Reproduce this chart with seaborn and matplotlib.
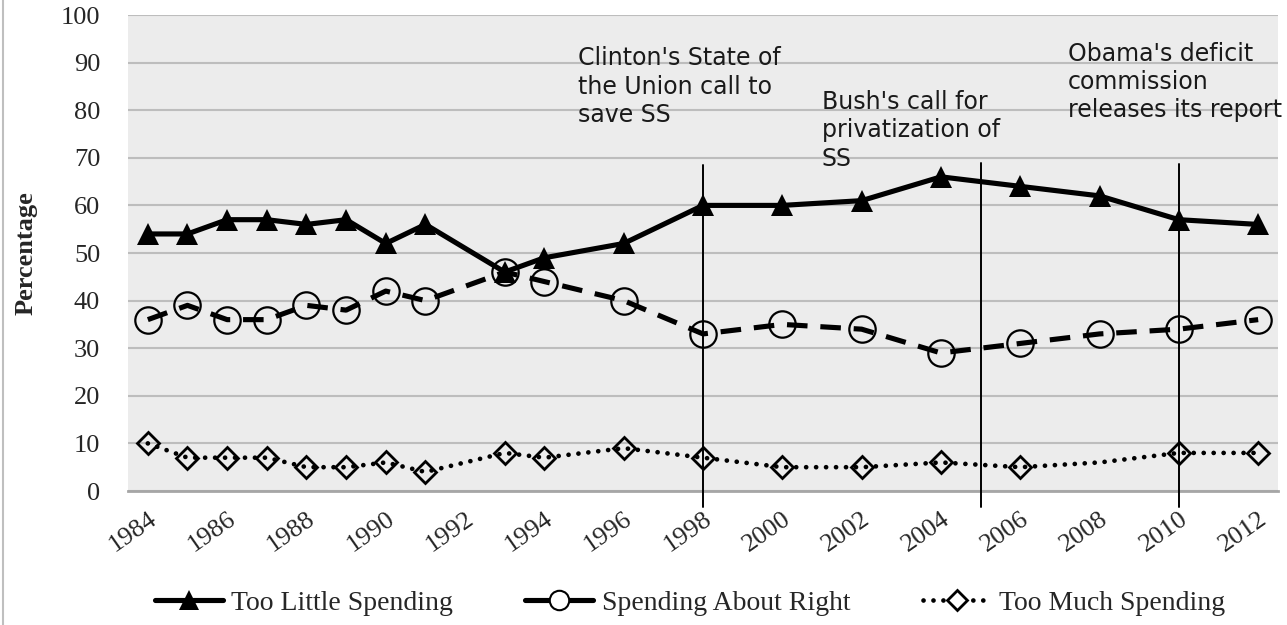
import matplotlib
matplotlib.use("Agg")
import matplotlib.pyplot as plt
import seaborn as sns
import pandas as pd
from matplotlib.lines import Line2D

years = [1984, 1985, 1986, 1987, 1988, 1989, 1990, 1991, 1993, 1994,
         1996, 1998, 2000, 2002, 2004, 2006, 2008, 2010, 2012]
too_little = [54, 54, 57, 57, 56, 57, 52, 56, 46, 49,
              52, 60, 60, 61, 66, 64, 62, 57, 56]
about_right = [36, 39, 36, 36, 39, 38, 42, 40, 46, 44,
               40, 33, 35, 34, 29, 31, 33, 34, 36]
too_much = [10, 7, 7, 7, 5, 5, 6, 4, 8, 7,
            9, 7, 5, 5, 6, 5, 6, 8, 8]
series_names = ["Too Little Spending", "Spending About Right", "Too Much Spending"]
tick_years = list(range(1984, 2013, 2))
y_ticks = list(range(0, 101, 10))
event_years = [1998, 2005, 2010]
event_labels = ["Clinton's State of\nthe Union call to\nsave SS",
                "Bush's call for\nprivatization of\nSS",
                "Obama's deficit\ncommission\nreleases its report"]
event_label_x = [1994.85, 2001.0, 2007.2]
event_label_y = [93.4, 84.2, 94.4]
event_line_top = [68.5, 69.0, 68.8]

sns.set_theme(style="white")
serif = ["Liberation Serif", "DejaVu Serif"]
plt.rcParams["font.family"] = serif

fig = plt.figure(figsize=(12.87, 6.25), dpi=100)
ax = fig.add_axes([128/1287, 1 - 491/625, (1278-128)/1287, (491-15)/625])
ax.set_facecolor("#ececec")

df = pd.DataFrame({"year": years, "little": too_little,
                   "right": about_right, "much": too_much})

sns.lineplot(data=df, x="year", y="little", ax=ax, color="black",
             linewidth=3.7, marker="^", markersize=16, markeredgewidth=0,
             markerfacecolor="black", linestyle="-", legend=False, zorder=4)
sns.lineplot(data=df, x="year", y="right", ax=ax, color="black",
             linewidth=3.7, marker="o", markersize=19, markeredgewidth=1.6,
             markerfacecolor="none", markeredgecolor="black",
             linestyle=(0, (4.0, 2.5)), legend=False, zorder=3)
skip = [i for i, y in enumerate(years) if y != 2008]
sns.lineplot(data=df, x="year", y="much", ax=ax, color="black",
             linewidth=3.4, marker="D", markersize=11, markeredgewidth=2.0,
             markerfacecolor="none", markeredgecolor="black", markevery=skip,
             linestyle=(0, (0.01, 2.1)), dash_capstyle="round",
             legend=False, zorder=3)

# event lines and labels
for ey, top, lab, lx, ly in zip(event_years, event_line_top, event_labels,
                                event_label_x, event_label_y):
    ax.plot([ey, ey], [-3.3, top], color="black", linewidth=1.4,
            clip_on=False, zorder=5)
    ax.text(lx, ly, lab, family=["DejaVu Sans"], fontsize=17, va="top",
            ha="left", color="#1a1a1a", linespacing=1.22, zorder=6)

ax.set_xlim(1983.5, 2012.5)
ax.set_ylim(0, 100)
ax.set_xticks(tick_years)
ax.set_xticklabels([str(t) for t in tick_years], rotation=35, ha="right",
                   rotation_mode="anchor", fontsize=19)
ax.set_yticks(y_ticks)
ax.set_yticklabels([str(t) for t in y_ticks], fontsize=19)
ax.tick_params(axis="x", length=0, pad=12)
ax.tick_params(axis="y", length=0, pad=20)
ax.yaxis.grid(True, color="#bdbdbd", linewidth=1.5)
ax.set_axisbelow(True)
ax.set_xlabel("")
ax.set_ylabel("Percentage", fontsize=19, fontweight="bold")
ax.yaxis.set_label_coords(-0.079, 0.5)
for side in ["top", "right", "left"]:
    ax.spines[side].set_visible(False)
ax.spines["bottom"].set_color("#a6a6a6")
ax.spines["bottom"].set_linewidth(2)

handles = [
    Line2D([], [], color="black", linewidth=3.7, marker="^", markersize=15,
           markeredgewidth=0, linestyle="-"),
    Line2D([], [], color="black", linewidth=3.7, marker="o", markersize=14,
           markerfacecolor="white", markeredgewidth=1.5, linestyle="-"),
    Line2D([], [], color="black", linewidth=3.4, marker="D", markersize=10,
           markerfacecolor="white", markeredgewidth=2.0,
           linestyle=(0, (0.01, 2.1)), dash_capstyle="round"),
]
fig.legend(handles, series_names, loc="center", ncol=3, frameon=False,
           bbox_to_anchor=(690/1287, 1 - 603/625), fontsize=20,
           handlelength=2.45, handletextpad=0.3, columnspacing=2.6)

fig.add_artist(Line2D([3/1287, 3/1287], [0, 1], color="#bfbfbf",
                      linewidth=1.5, transform=fig.transFigure))

fig.savefig("out.png", dpi=100)
